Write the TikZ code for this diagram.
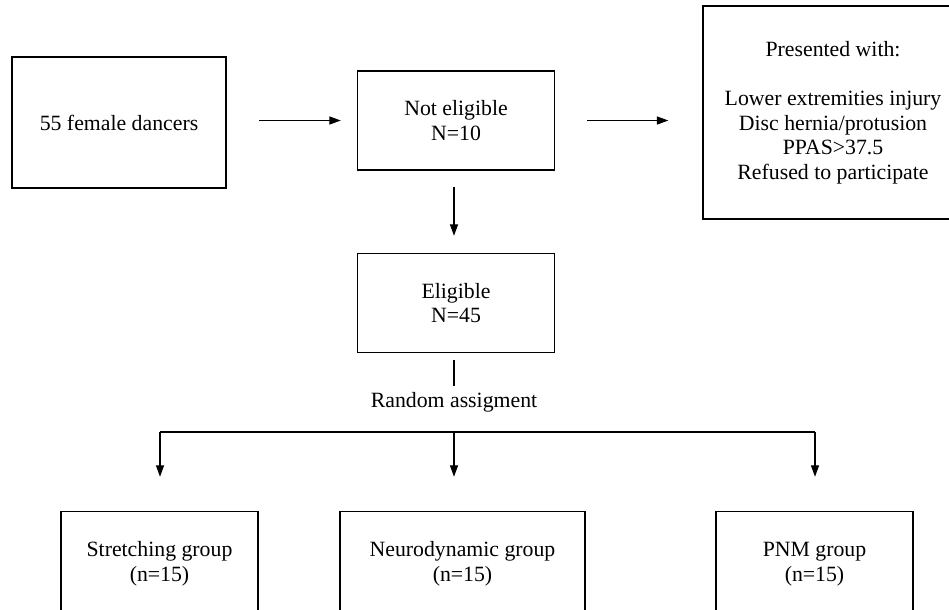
\documentclass[tikz,border=0pt]{standalone}
\usepackage{fontspec}
\setmainfont{Liberation Serif}
\usetikzlibrary{arrows.meta,positioning}

\begin{document}
\begin{tikzpicture}[
    x = 0.02cm, y = -0.02cm, % one unit is one pixel of the flow chart
    > = {Triangle[length=6.5pt,width=4.6pt]}, % arrow head style
    font = \fontsize{12.4}{14}\selectfont,
    box/.style = {draw = black, line width = 0.9pt, align = center,
        minimum width = 3.94cm, minimum height = 1.98cm},
    link/.style = {->, line width = 0.6pt}
    ]

    \useasboundingbox (0,0) rectangle (949,609);
    \clip (0,0) rectangle (949,609);

    \node[box, minimum width=4.28cm, minimum height=2.62cm] (dancers) at (119,122.5) {55 female dancers};
    \node[box] (notelig) [right=2.6cm of dancers, yshift=0.04cm] {Not eligible\\N=10};
    \node[box, minimum width=5.2cm, minimum height=4.26cm] (presented) [right=2.94cm of notelig, yshift=0.16cm]
        {Presented with:\\[14pt]Lower extremities injury\\Disc hernia/protusion\\PPAS>37.5\\Refused to participate};
    \node[box] (eligible) [below=1.64cm of notelig] {Eligible\\N=45};
    \node (random) at (454,402) {Random assigment};

    \node[box, minimum height=2.1cm] (stretch) at (159.5,564) {Stretching group\\(n=15)};
    \node[box, minimum width=4.9cm, minimum height=2.1cm] (neuro) at (462.5,564) {Neurodynamic group\\(n=15)};
    \node[box, minimum height=2.1cm] (pnm) at (814.5,564) {PNM group\\(n=15)};

    \coordinate (forkL) at (160,432);
    \coordinate (forkM) at (454,432);
    \coordinate (forkR) at (815,432);

    \draw[link, shorten <=0.64cm, shorten >=0.32cm] (dancers.east |- notelig.east) -- (notelig);
    \draw[link, shorten <=0.64cm, shorten >=0.68cm] (notelig) -- (notelig -| presented.west);
    \draw[link, shorten <=0.32cm, shorten >=0.34cm] (notelig.south -| forkM) -- (eligible.north -| forkM);
    \draw[line width=0.6pt, shorten <=0.14cm] (eligible.south -| forkM) -- (random.north -| forkM);
    \draw[line width=0.6pt] (forkL) -- (forkR);
    \draw[link, shorten >=0.68cm] (forkL) -- (stretch.north -| forkL);
    \draw[link, shorten >=0.68cm] (forkM) -- (neuro.north -| forkM);
    \draw[link, shorten >=0.68cm] (forkR) -- (pnm.north -| forkR);
\end{tikzpicture}
\end{document}
